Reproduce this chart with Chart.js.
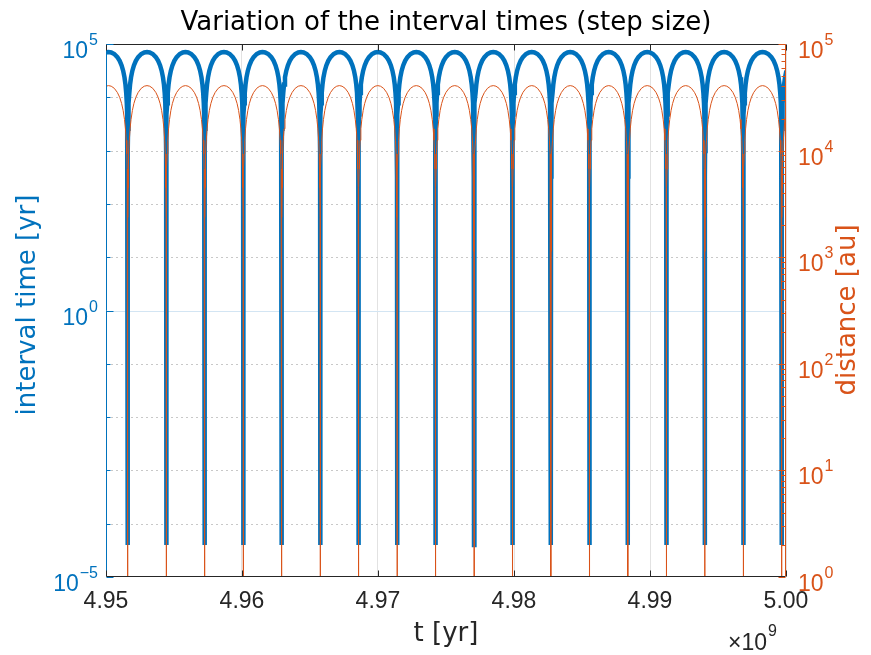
<!DOCTYPE html>
<html>
<head>
<meta charset="utf-8">
<script src="https://cdn.jsdelivr.net/npm/chart.js@4.4.1/dist/chart.umd.min.js"></script>
<style>
  html, body { margin: 0; padding: 0; background: #fff; }
  #wrap { width: 871px; height: 655px; }
</style>
</head>
<body>
<div id="wrap"><canvas id="chart" width="871" height="655"></canvas></div>
<script>
// pericentre passages (units of 1e9 yr)
const dipTimes = [4.94877, 4.95160, 4.95443, 4.95726, 4.96009, 4.96292, 4.96575, 4.96857,
                  4.97140, 4.97423, 4.97706, 4.97989, 4.98272, 4.98555, 4.98838, 4.99121,
                  4.99404, 4.99686, 4.99969, 5.00252];

const phase        = [0, 0.001, 0.003, 0.008, 0.015, 0.025, 0.04, 0.06, 0.085, 0.12, 0.16, 0.21, 0.27, 0.35, 0.43, 0.5];
const distance     = [0.3, 1130, 2360, 4480, 6730, 9310, 12500, 16000, 19600, 23800, 27700, 31600, 35100, 38400, 40200, 40700];
const intervalTime = [4e-5, 328, 984, 2580, 4750, 7740, 12000, 17400, 23700, 31600, 39700, 48300, 56600, 64900, 69500, 70800];

const xTicks = [4.95, 4.96, 4.97, 4.98, 4.99, 5.00];
const leftExp = [-5, -4, -3, -2, -1, 0, 1, 2, 3, 4, 5];
const leftMajorExp = [-5, 0, 5];
const rightExp = [0, 1, 2, 3, 4, 5];

const BLUE = '#0072BD';
const ORANGE = '#D95319';
const INK = '#262626';
const TICKFONT = '"Liberation Sans", Arial, sans-serif';
const LABELFONT = '"DejaVu Sans", sans-serif';

// walk the arches: rising half then falling half of each orbit
function buildSeries(values) {
  const pts = [];
  for (let k = 0; k < dipTimes.length - 1; k++) {
    const t0 = dipTimes[k], t1 = dipTimes[k + 1];
    for (let i = 0; i < phase.length; i++) pts.push({ x: t0 + phase[i] * (t1 - t0), y: values[i] });
    for (let i = phase.length - 2; i > 0; i--) pts.push({ x: t1 - phase[i] * (t1 - t0), y: values[i] });
  }
  pts.push({ x: dipTimes[dipTimes.length - 1], y: values[0] });
  return pts;
}

function drawPow(ctx, exp, x, y, align, color) {
  const base = '10', sup = String(exp).replace('-', '\u2212');
  ctx.font = '23px ' + TICKFONT;
  const wb = ctx.measureText(base).width;
  ctx.font = '16px ' + TICKFONT;
  const ws = ctx.measureText(sup).width;
  const left = align === 'right' ? x - wb - ws : x;
  ctx.fillStyle = color;
  ctx.textAlign = 'left';
  ctx.textBaseline = 'alphabetic';
  ctx.font = '23px ' + TICKFONT;
  ctx.fillText(base, left, y + 14);
  ctx.font = '16px ' + TICKFONT;
  ctx.fillText(sup, left + wb + 1, y + 1);
}

const matlabAxes = {
  id: 'matlabAxes',
  beforeDatasetsDraw(chart) {
    const { ctx, chartArea: ca, scales } = chart;
    ctx.save();
    ctx.lineWidth = 1;
    leftExp.forEach(e => {
      if (e === -5 || e === 5) return;
      const y = Math.round(scales.y.getPixelForValue(Math.pow(10, e))) + 0.5;
      ctx.beginPath();
      if (e === 0) { ctx.setLineDash([]); ctx.strokeStyle = '#d3e5f3'; }
      else { ctx.setLineDash([2, 3]); ctx.strokeStyle = '#c8c8c8'; }
      ctx.moveTo(ca.left, y); ctx.lineTo(ca.right, y); ctx.stroke();
    });
    ctx.restore();
  },
  afterDatasetsDraw(chart) {
    const { ctx, chartArea: ca, scales } = chart;
    ctx.save();
    ctx.lineWidth = 1;
    const L = ca.left + 0.5, R = ca.right - 0.5, T = ca.top + 0.5, B = ca.bottom - 0.5;
    const line = (x1, y1, x2, y2, c) => { ctx.strokeStyle = c; ctx.beginPath(); ctx.moveTo(x1, y1); ctx.lineTo(x2, y2); ctx.stroke(); };
    // box
    line(L, T, R, T, INK);
    line(L, B, R, B, INK);
    line(L, T, L, B, BLUE);
    line(R, T, R, B, ORANGE);
    // x ticks, top and bottom, inward
    xTicks.forEach(v => {
      const x = Math.round(scales.x.getPixelForValue(v)) + 0.5;
      line(x, B, x, B - 6, INK);
      line(x, T, x, T + 6, INK);
    });
    // left ticks
    leftExp.forEach(e => {
      const y = Math.round(scales.y.getPixelForValue(Math.pow(10, e))) + 0.5;
      const len = leftMajorExp.includes(e) ? 7 : 4;
      line(L, y, L + len, y, BLUE);
    });
    // right ticks with minors
    rightExp.forEach(e => {
      for (let m = 1; m <= 9; m++) {
        const v = m * Math.pow(10, e);
        if (v > 1e5) break;
        const y = Math.round(scales.y1.getPixelForValue(v)) + 0.5;
        line(R, y, R - (m === 1 ? 7 : 4), y, ORANGE);
      }
    });
    // tick labels on the log axes
    leftMajorExp.forEach(e => drawPow(ctx, e, ca.left - 9, scales.y.getPixelForValue(Math.pow(10, e)), 'right', BLUE));
    rightExp.forEach(e => drawPow(ctx, e, ca.right + 12, scales.y1.getPixelForValue(Math.pow(10, e)), 'left', ORANGE));

    // title and axis labels
    ctx.textAlign = 'center';
    ctx.textBaseline = 'middle';
    ctx.fillStyle = '#000';
    ctx.font = '26px ' + LABELFONT;
    ctx.fillText('Variation of the interval times (step size)', (ca.left + ca.right) / 2, 23);
    ctx.fillStyle = INK;
    ctx.fillText('t [yr]', (ca.left + ca.right) / 2, 634);

    ctx.save();
    ctx.translate(28, 305);
    ctx.rotate(-Math.PI / 2);
    ctx.fillStyle = BLUE;
    ctx.fillText('interval time [yr]', 0, 0);
    ctx.restore();

    ctx.save();
    ctx.translate(848, 310);
    ctx.rotate(-Math.PI / 2);
    ctx.fillStyle = ORANGE;
    ctx.fillText('distance [au]', 0, 0);
    ctx.restore();

    // x multiplier
    ctx.textAlign = 'left';
    ctx.textBaseline = 'alphabetic';
    ctx.fillStyle = INK;
    ctx.font = '23px ' + TICKFONT;
    ctx.fillText('\u00d710', 728, 650);
    const w = ctx.measureText('\u00d710').width;
    ctx.font = '16px ' + TICKFONT;
    ctx.fillText('9', 728 + w + 1, 636);
    ctx.restore();
  }
};

new Chart(document.getElementById('chart'), {
  type: 'line',
  data: {
    datasets: [
      {
        label: 'interval time',
        data: buildSeries(intervalTime),
        yAxisID: 'y',
        borderColor: BLUE,
        borderWidth: 4.5,
        pointRadius: 0,
        tension: 0,
        clip: 0,
        order: 2
      },
      {
        label: 'distance',
        data: buildSeries(distance),
        yAxisID: 'y1',
        borderColor: ORANGE,
        borderWidth: 1,
        pointRadius: 0,
        tension: 0,
        clip: 0,
        order: 1
      }
    ]
  },
  options: {
    responsive: false,
    animation: false,
    parsing: false,
    layout: { padding: { top: 44, left: 0, right: 0, bottom: 0 } },
    plugins: { legend: { display: false }, tooltip: { enabled: false } },
    scales: {
      x: {
        type: 'linear',
        min: 4.95,
        max: 5.00,
        afterBuildTicks: s => { s.ticks = xTicks.map(v => ({ value: v })); },
        afterFit: s => { s.height = 78; },
        ticks: {
          callback: v => v.toFixed(2),
          color: INK,
          font: { size: 23, family: TICKFONT },
          padding: 11,
          maxRotation: 0
        },
        grid: { color: '#e2e2e2', drawTicks: false },
        border: { display: false }
      },
      y: {
        type: 'logarithmic',
        position: 'left',
        min: 1e-5,
        max: 1e5,
        afterBuildTicks: s => { s.ticks = leftExp.map(e => ({ value: Math.pow(10, e) })); },
        afterFit: s => { s.width = 106; },
        ticks: { display: false },
        grid: { display: false },
        border: { display: false }
      },
      y1: {
        type: 'logarithmic',
        position: 'right',
        min: 1,
        max: 1e5,
        afterBuildTicks: s => { s.ticks = rightExp.map(e => ({ value: Math.pow(10, e) })); },
        afterFit: s => { s.width = 85; },
        ticks: { display: false },
        grid: { display: false },
        border: { display: false }
      }
    }
  },
  plugins: [matlabAxes]
});
</script>
</body>
</html>
